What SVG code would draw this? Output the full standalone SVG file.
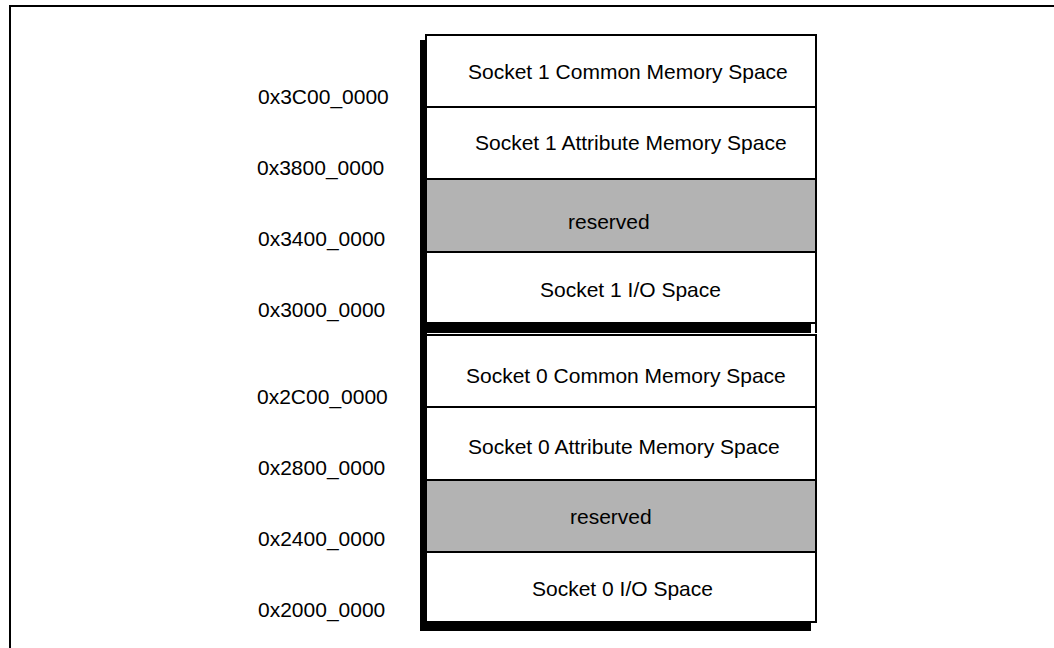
<svg xmlns="http://www.w3.org/2000/svg" width="1054" height="648" viewBox="0 0 1054 648">
<style>
.t{font-family:"Liberation Sans",Arial,sans-serif;font-size:21px;fill:#000}
.cell{fill:#fff;stroke:#000;stroke-width:2}
.res{fill:#b3b3b3;stroke:#000;stroke-width:2}
.sh{fill:#000}
</style>
<rect width="1054" height="648" fill="#fff"/>
<g id="frame">
<line x1="9" y1="6" x2="1054" y2="6" stroke="#000" stroke-width="2"/>
<line x1="10" y1="5" x2="10" y2="648" stroke="#000" stroke-width="2"/>
</g>
<g id="shadows">
<rect class="sh" x="420" y="40" width="7" height="591"/>
<rect class="sh" x="420" y="322" width="391" height="11"/>
<rect class="sh" x="420" y="621" width="391" height="10"/>
<line x1="816" y1="322" x2="816" y2="333" stroke="#000" stroke-width="2"/>
</g>
<g id="s1-common"><rect class="cell" x="426" y="35" width="390" height="72"/><text class="t" x="468" y="79">Socket 1 Common Memory Space</text></g>
<g id="s1-attr"><rect class="cell" x="426" y="107" width="390" height="72"/><text class="t" x="475" y="150">Socket 1 Attribute Memory Space</text></g>
<g id="s1-res"><rect class="res" x="426" y="179" width="390" height="73"/><text class="t" x="568" y="229">reserved</text></g>
<g id="s1-io"><rect class="cell" x="426" y="252" width="390" height="71"/><text class="t" x="540" y="297">Socket 1 I/O Space</text></g>
<g id="s0-common"><rect class="cell" x="426" y="335" width="390" height="72"/><text class="t" x="466" y="383">Socket 0 Common Memory Space</text></g>
<g id="s0-attr"><rect class="cell" x="426" y="407" width="390" height="73"/><text class="t" x="468" y="454">Socket 0 Attribute Memory Space</text></g>
<g id="s0-res"><rect class="res" x="426" y="480" width="390" height="72"/><text class="t" x="570" y="524">reserved</text></g>
<g id="s0-io"><rect class="cell" x="426" y="552" width="390" height="70"/><text class="t" x="532" y="596">Socket 0 I/O Space</text></g>
<g id="labels">
<text class="t" x="258" y="104">0x3C00_0000</text>
<text class="t" x="257" y="175">0x3800_0000</text>
<text class="t" x="258" y="246">0x3400_0000</text>
<text class="t" x="258" y="317">0x3000_0000</text>
<text class="t" x="257" y="404">0x2C00_0000</text>
<text class="t" x="258" y="475">0x2800_0000</text>
<text class="t" x="258" y="546">0x2400_0000</text>
<text class="t" x="258" y="617">0x2000_0000</text>
</g>
<g id="connectors"/>
</svg>
